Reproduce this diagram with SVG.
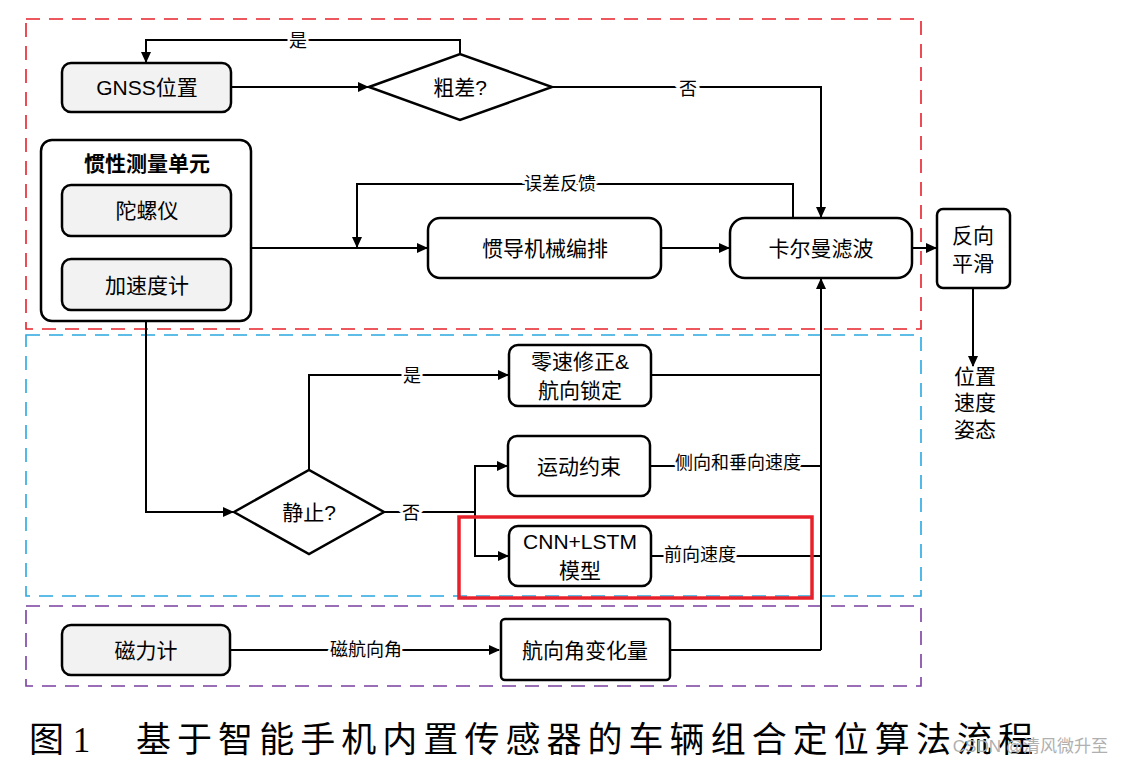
<svg xmlns="http://www.w3.org/2000/svg" width="1125" height="767" viewBox="0 0 1125 767">
<style>
.box{stroke:#000;stroke-width:2.5;fill:#fff}
.gray{fill:#f2f2f2}
.t{font-family:"Liberation Sans","Noto Sans CJK SC",sans-serif;font-size:21px;fill:#000;text-anchor:middle;dominant-baseline:central}
.lb{font-family:"Liberation Sans","Noto Sans CJK SC",sans-serif;font-size:18px;fill:#000;text-anchor:middle;dominant-baseline:central;stroke:#fff;stroke-width:5px;paint-order:stroke}
.ln{stroke:#000;stroke-width:2;fill:none}
.zone{fill:none;stroke-width:1.6;stroke-dasharray:14 9}
</style>
<defs>
<marker id="ah" markerWidth="12" markerHeight="12" refX="10" refY="5" orient="auto" markerUnits="userSpaceOnUse">
<path d="M0,0 L11,5 L0,10 Z" fill="#000"/>
</marker>
</defs>
<rect width="1125" height="767" fill="#fff"/>
<g id="zones">
<rect class="zone" x="26" y="19" width="895" height="310" stroke="#e8202a"/>
<rect class="zone" x="26" y="335" width="895" height="261" stroke="#29a8e0"/>
<rect class="zone" x="26" y="606" width="895" height="80" stroke="#7a3fa0"/>
</g>
<g id="connectors">
<polyline class="ln" points="231,87 368,87" marker-end="url(#ah)"/>
<polyline class="ln" points="460,54 460,40 146,40 146,62" marker-end="url(#ah)"/>
<polyline class="ln" points="552,87 821,87 821,217" marker-end="url(#ah)"/>
<polyline class="ln" points="248,248 427,248" marker-end="url(#ah)"/>
<polyline class="ln" points="793,218 793,184 357,184 357,247" marker-end="url(#ah)"/>
<polyline class="ln" points="661,248 729,248" marker-end="url(#ah)"/>
<polyline class="ln" points="912,248 936,248" marker-end="url(#ah)"/>
<polyline class="ln" points="973,288 973,366" marker-end="url(#ah)"/>
<polyline class="ln" points="146,322 146,512 233,512" marker-end="url(#ah)"/>
<polyline class="ln" points="309,470 309,375 508,375" marker-end="url(#ah)"/>
<polyline class="ln" points="384,512 475,512"/>
<polyline class="ln" points="475,512 475,466 507,466" marker-end="url(#ah)"/>
<polyline class="ln" points="475,512 475,556 508,556" marker-end="url(#ah)"/>
<polyline class="ln" points="651,375 821,375"/>
<polyline class="ln" points="650,466 821,466"/>
<polyline class="ln" points="651,556 821,556"/>
<polyline class="ln" points="230,650 499,650" marker-end="url(#ah)"/>
<polyline class="ln" points="670,650 821,650"/>
<polyline class="ln" points="821,650 821,279" stroke-width="2.6" marker-end="url(#ah)"/>
<text class="lb" x="298" y="41">是</text>
<text class="lb" x="688" y="89">否</text>
<text class="lb" x="560" y="184">误差反馈</text>
<text class="lb" x="412" y="376">是</text>
<text class="lb" x="411" y="513">否</text>
<text class="lb" x="738" y="463">侧向和垂向速度</text>
<text class="lb" x="700" y="555">前向速度</text>
<text class="lb" x="366" y="650">磁航向角</text>
</g>
<g id="gnss">
<rect class="box gray" x="62" y="63" width="169" height="49" rx="9"/>
<text class="t" x="147" y="87">GNSS位置</text>
</g>
<g id="gross-error">
<polygon class="box" points="369,87 460,54 552,87 460,120"/>
<text class="t" x="460" y="87">粗差?</text>
</g>
<g id="imu">
<rect class="box" x="41" y="140" width="210" height="181" rx="11"/>
<text class="t" x="147" y="163" font-weight="bold">惯性测量单元</text>
</g>
<g id="gyro">
<rect class="box gray" x="62" y="185" width="169" height="51" rx="9"/>
<text class="t" x="147" y="210">陀螺仪</text>
</g>
<g id="accel">
<rect class="box gray" x="62" y="259" width="169" height="51" rx="9"/>
<text class="t" x="147" y="285">加速度计</text>
</g>
<g id="ins">
<rect class="box" x="428" y="218" width="233" height="60" rx="12"/>
<text class="t" x="545" y="248">惯导机械编排</text>
</g>
<g id="kalman">
<rect class="box" x="730" y="218" width="182" height="60" rx="15"/>
<text class="t" x="821" y="248">卡尔曼滤波</text>
</g>
<g id="smooth">
<rect class="box" x="937" y="209" width="73" height="79" rx="6"/>
<text class="t" x="973" y="235">反向</text>
<text class="t" x="973" y="263">平滑</text>
</g>
<g id="output">
<text class="t" x="975" y="376">位置</text>
<text class="t" x="975" y="402">速度</text>
<text class="t" x="975" y="429">姿态</text>
</g>
<g id="static">
<polygon class="box" points="234,512 309,470 384,512 309,554"/>
<text class="t" x="309" y="512">静止?</text>
</g>
<g id="zupt">
<rect class="box" x="509" y="345" width="142" height="61" rx="9"/>
<text class="t" x="580" y="361">零速修正&amp;</text>
<text class="t" x="580" y="390">航向锁定</text>
</g>
<g id="motion">
<rect class="box" x="508" y="436" width="142" height="60" rx="9"/>
<text class="t" x="579" y="466">运动约束</text>
</g>
<g id="cnn">
<rect class="box" x="509" y="526" width="142" height="60" rx="9"/>
<text class="t" x="580" y="541">CNN+LSTM</text>
<text class="t" x="580" y="570">模型</text>
</g>
<g id="highlight">
<rect x="459" y="517" width="353" height="81" fill="none" stroke="#e8202a" stroke-width="3.5"/>
</g>
<g id="magnetometer">
<rect class="box gray" x="62" y="625" width="168" height="50" rx="9"/>
<text class="t" x="146" y="650">磁力计</text>
</g>
<g id="heading">
<rect class="box" x="501" y="619" width="169" height="61" rx="4"/>
<text class="t" x="585" y="650">航向角变化量</text>
</g>
<g id="caption">
<text x="29" y="752" font-family="'Liberation Serif','Noto Sans CJK SC',serif" font-size="35" fill="#000">图 1</text>
<text x="136" y="752" font-family="'Liberation Serif','Noto Sans CJK SC',serif" font-size="35" fill="#000" textLength="897" lengthAdjust="spacing">基于智能手机内置传感器的车辆组合定位算法流程</text>
<text x="1108" y="752" font-family="'Liberation Sans','Noto Sans CJK SC',sans-serif" font-size="17" fill="#b0b0b0" text-anchor="end">CSDN @清风微升至</text>
</g>
</svg>
